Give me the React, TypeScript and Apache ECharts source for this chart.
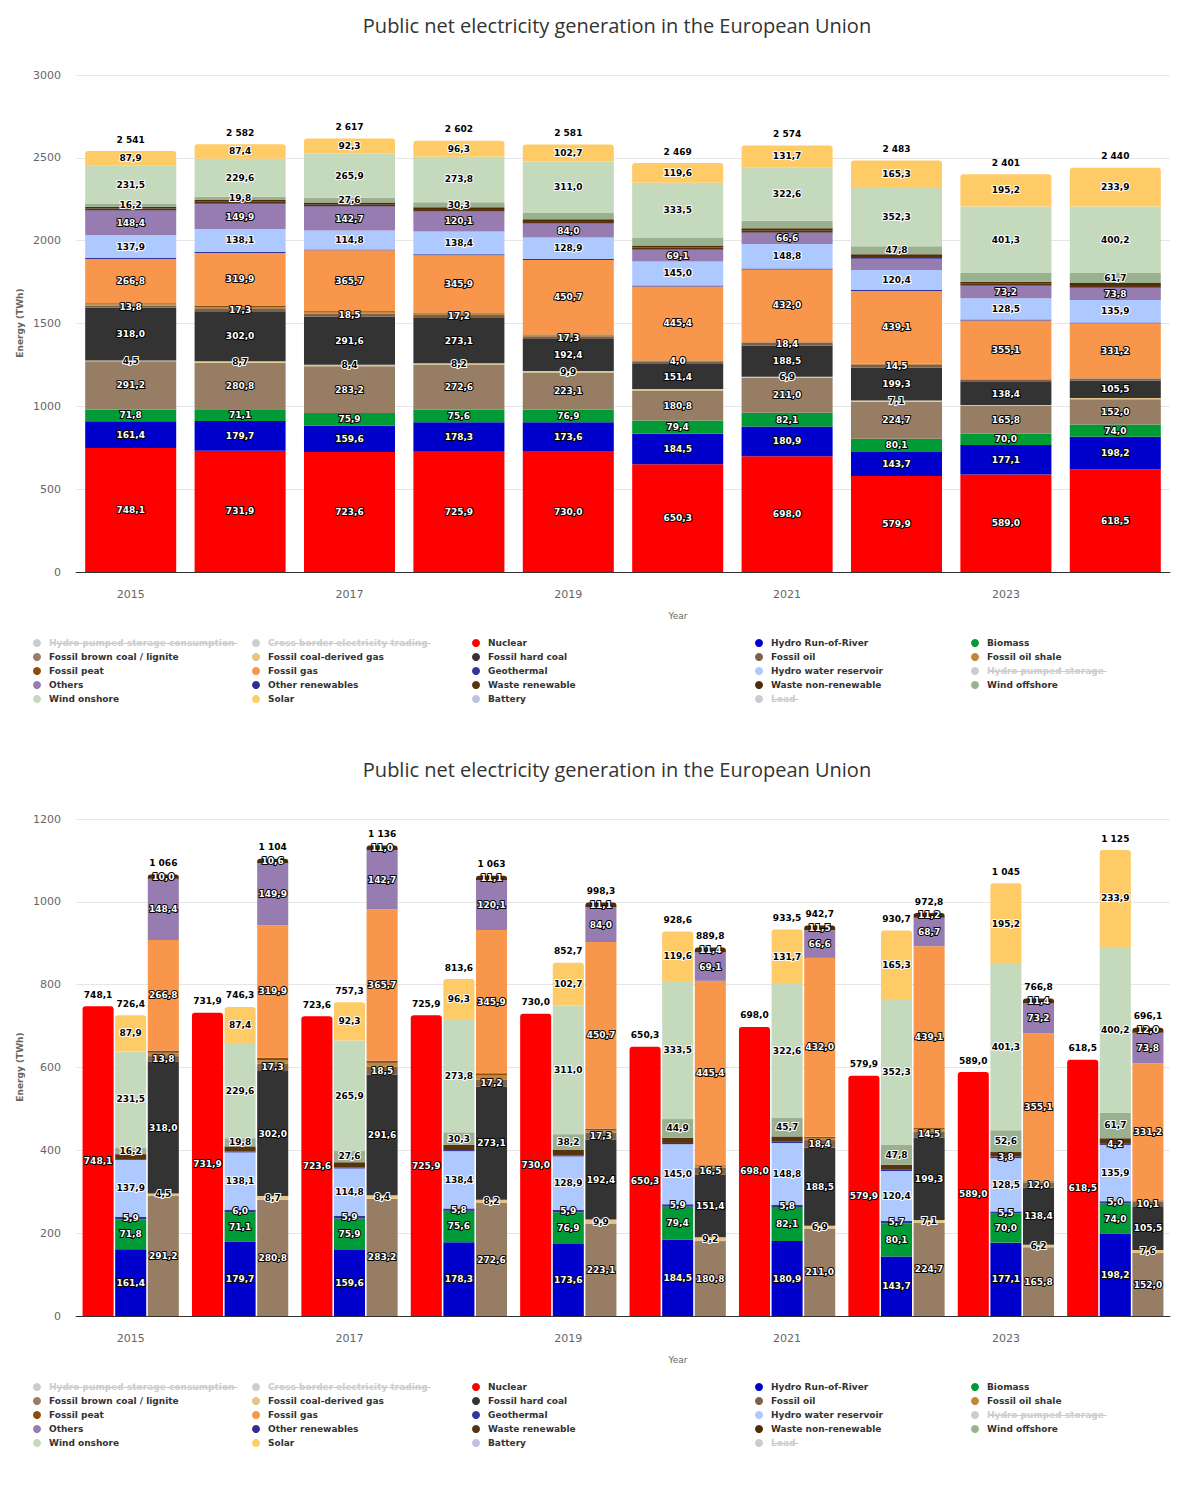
import React, { useEffect, useRef } from 'react';
import * as echarts from 'echarts';

const years = ['2015', '2016', '2017', '2018', '2019', '2020', '2021', '2022', '2023', '2024'];

const nuclear = [748.1, 731.9, 723.6, 725.9, 730.0, 650.3, 698.0, 579.9, 589.0, 618.5];
const hydroRunOfRiver = [161.4, 179.7, 159.6, 178.3, 173.6, 184.5, 180.9, 143.7, 177.1, 198.2];
const biomass = [71.8, 71.1, 75.9, 75.6, 76.9, 79.4, 82.1, 80.1, 70.0, 74.0];
const brownCoal = [291.2, 280.8, 283.2, 272.6, 223.1, 180.8, 211.0, 224.7, 165.8, 152.0];
const coalDerivedGas = [4.5, 8.7, 8.4, 8.2, 9.9, 9.2, 6.9, 7.1, 6.2, 7.6];
const hardCoal = [318.0, 302.0, 291.6, 273.1, 192.4, 151.4, 188.5, 199.3, 138.4, 105.5];
const fossilOil = [13.8, 17.3, 18.5, 17.2, 17.3, 16.5, 18.4, 14.5, 12.0, 10.1];
const oilShale = [8.0, 8.5, 9.5, 9.3, 5.6, 4.0, 5.0, 5.4, 2.6, 2.3];
const peat = [5.3, 6.3, 5.4, 5.5, 4.2, 2.0, 2.8, 2.8, 2.1, 1.6];
const fossilGas = [266.8, 319.9, 365.7, 345.9, 450.7, 445.4, 432.0, 439.1, 355.1, 331.2];
const geothermal = [5.9, 6.0, 5.9, 5.8, 5.9, 5.9, 5.8, 5.7, 5.5, 5.0];
const hydroReservoir = [137.9, 138.1, 114.8, 138.4, 128.9, 145.0, 148.8, 120.4, 128.5, 135.9];
const others = [148.4, 149.9, 142.7, 120.1, 84.0, 69.1, 66.6, 68.7, 73.2, 73.8];
const otherRenewables = [2.0, 2.2, 2.4, 2.5, 2.7, 3.0, 3.2, 3.4, 3.8, 4.2];
const wasteRenewable = [11.8, 12.4, 12.9, 12.6, 12.8, 12.8, 12.7, 12.0, 11.0, 11.9];
const wasteNonRenewable = [10.0, 10.6, 11.0, 11.1, 11.1, 11.4, 11.5, 11.2, 11.4, 12.0];
const windOffshore = [16.2, 19.8, 27.6, 30.3, 38.2, 44.9, 45.7, 47.8, 52.6, 61.7];
const windOnshore = [231.5, 229.6, 265.9, 273.8, 311.0, 333.5, 322.6, 352.3, 401.3, 400.2];
const solar = [87.9, 87.4, 92.3, 96.3, 102.7, 119.6, 131.7, 165.3, 195.2, 233.9];
const battery: (number | null)[] = [null, null, null, null, null, null, null, null, null, null];

const totalAll = [2541, 2582, 2617, 2602, 2581, 2469, 2574, 2483, 2401, 2440];
const totalRenewable = [726.4, 746.3, 757.3, 813.6, 852.7, 928.6, 933.5, 930.7, 1045, 1125];
const totalFossil = [1066, 1104, 1136, 1063, 998.3, 889.8, 942.7, 972.8, 766.8, 696.1];

const TITLE = 'Public net electricity generation in the European Union';

type Shown = 'all' | 'none' | number[];
type Def = {
  name: string;
  data: (number | null)[];
  color: string;
  group: 'nuc' | 'ren' | 'fos';
  dark?: boolean;
  off?: boolean;
  top?: Shown;
  split?: Shown;
  capTop?: boolean;
  capSplit?: boolean;
};

const empty: (number | null)[] = [];

const defs: Def[] = [
  { name: 'Hydro pumped storage consumption', data: empty, color: '#0b4fa8', group: 'nuc', off: true },
  { name: 'Cross border electricity trading', data: empty, color: '#999999', group: 'nuc', off: true },
  { name: 'Nuclear', data: nuclear, color: '#ff0000', group: 'nuc', top: 'all', split: 'all', capSplit: true },
  { name: 'Hydro Run-of-River', data: hydroRunOfRiver, color: '#0000cc', group: 'ren', top: 'all', split: 'all' },
  { name: 'Biomass', data: biomass, color: '#009a36', group: 'ren', top: 'all', split: 'all' },
  { name: 'Fossil brown coal / lignite', data: brownCoal, color: '#977d63', group: 'fos', top: 'all', split: 'all' },
  { name: 'Fossil coal-derived gas', data: coalDerivedGas, color: '#e2c484', group: 'fos', dark: true, top: [0, 1, 2, 3, 4, 6, 7], split: 'all' },
  { name: 'Fossil hard coal', data: hardCoal, color: '#333333', group: 'fos', top: 'all', split: 'all' },
  { name: 'Fossil oil', data: fossilOil, color: '#7d6049', group: 'fos', top: [0, 1, 2, 3, 4, 6, 7], split: 'all' },
  { name: 'Fossil oil shale', data: oilShale, color: '#c28637', group: 'fos', top: [5], split: 'none' },
  { name: 'Fossil peat', data: peat, color: '#8c4d0c', group: 'fos', top: 'none', split: 'none' },
  { name: 'Fossil gas', data: fossilGas, color: '#f8964b', group: 'fos', top: 'all', split: 'all' },
  { name: 'Geothermal', data: geothermal, color: '#333399', group: 'ren', top: 'none', split: 'all' },
  { name: 'Hydro water reservoir', data: hydroReservoir, color: '#aec9ff', group: 'ren', dark: true, top: 'all', split: 'all' },
  { name: 'Hydro pumped storage', data: empty, color: '#6f8fd0', group: 'ren', off: true },
  { name: 'Others', data: others, color: '#967cb0', group: 'fos', top: [0, 1, 2, 3, 4, 5, 6, 8, 9], split: 'all' },
  { name: 'Other renewables', data: otherRenewables, color: '#303094', group: 'ren', top: 'none', split: [8, 9] },
  { name: 'Waste renewable', data: wasteRenewable, color: '#573310', group: 'ren', top: 'none', split: 'none' },
  { name: 'Waste non-renewable', data: wasteNonRenewable, color: '#4e2c08', group: 'fos', top: 'none', split: 'all', capSplit: true },
  { name: 'Wind offshore', data: windOffshore, color: '#9bb08f', group: 'ren', dark: true, top: [0, 1, 2, 3, 7, 9], split: 'all' },
  { name: 'Wind onshore', data: windOnshore, color: '#c5d9bc', group: 'ren', dark: true, top: 'all', split: 'all' },
  { name: 'Solar', data: solar, color: '#ffcb66', group: 'ren', dark: true, top: 'all', split: 'all', capTop: true, capSplit: true },
  { name: 'Battery', data: battery, color: '#c0c0e0', group: 'ren', dark: true, top: 'none', split: 'none' },
  { name: 'Load', data: empty, color: '#888888', group: 'nuc', off: true },
];

const FONT = 'DejaVu Sans';
const fmt1 = (v: number) => v.toFixed(1).replace('.', ',');
const fmtTotal = (v: number) => {
  if (v >= 1000) {
    const s = String(Math.round(v));
    return s.replace(/\B(?=(\d{3})+(?!\d))/g, ' ');
  }
  return fmt1(v);
};

const isShown = (s: Shown | undefined, i: number) => {
  if (!s || s === 'none') return false;
  if (s === 'all') return true;
  return s.indexOf(i) >= 0;
};

const LEG_COLS = [33, 252, 472, 755, 971];
const LEG_ROW0 = 643;
const LEG_ROW_STEP = 14;

function measure(text: string) {
  const c = document.createElement('canvas');
  const ctx = c.getContext('2d');
  if (!ctx) return text.length * 6;
  ctx.font = `bold 9px "${FONT}"`;
  return ctx.measureText(text).width;
}

function buildOption(split: boolean) {
  const ymax = split ? 1200 : 3000;
  const yint = split ? 200 : 500;
  const series: any[] = [];
  defs.forEach((d) => {
    const stack = split ? d.group : 'all';
    const cap = split ? d.capSplit : d.capTop;
    const shown = split ? d.split : d.top;
    series.push({
      type: 'bar',
      name: d.name,
      stack,
      barCategoryGap: split ? '12%' : '16.8%',
      barGap: '5%',
      itemStyle: { color: d.color, borderRadius: cap ? [3, 3, 0, 0] : 0 },
      label: {
        show: true,
        position: 'inside',
        fontFamily: FONT,
        fontSize: 9,
        fontWeight: 'bold',
        color: d.dark ? '#000000' : '#ffffff',
        textBorderColor: d.dark ? '#ffffff' : '#000000',
        textBorderWidth: 2,
        formatter: (p: any) => fmt1(p.value),
      },
      emphasis: { disabled: true },
      data: d.data.map((v, i) => ({ value: v, label: { show: isShown(shown, i) } })),
    });
  });

  const totals: { stack: string; values: number[] }[] = split
    ? [
        { stack: 'nuc', values: nuclear },
        { stack: 'ren', values: totalRenewable },
        { stack: 'fos', values: totalFossil },
      ]
    : [{ stack: 'all', values: totalAll }];
  totals.forEach((t, k) => {
    series.push({
      type: 'bar',
      name: 'total-' + k,
      stack: t.stack,
      barCategoryGap: split ? '12%' : '16.8%',
      barGap: '5%',
      silent: true,
      itemStyle: { color: 'rgba(0,0,0,0)' },
      label: {
        show: true,
        position: 'top',
        distance: 7,
        fontFamily: FONT,
        fontSize: 9,
        fontWeight: 'bold',
        color: '#000000',
        formatter: (p: any) => fmtTotal(t.values[p.dataIndex]),
      },
      data: t.values.map(() => 0),
    });
  });

  const legends: any[] = [];
  const graphics: any[] = [];
  for (let c = 0; c < 5; c++) {
    const names: string[] = [];
    const selected: Record<string, boolean> = {};
    for (let r = 0; r < 5; r++) {
      const idx = c + r * 5;
      if (idx < defs.length) {
        const d = defs[idx];
        names.push(d.name);
        if (d.off) {
          selected[d.name] = false;
          const tx = LEG_COLS[c] + 19;
          const ty = LEG_ROW0 + r * LEG_ROW_STEP + 0.5;
          graphics.push({
            type: 'line',
            silent: true,
            z: 100,
            shape: { x1: tx, y1: ty, x2: tx + measure(d.name), y2: ty },
            style: { stroke: '#cccccc', lineWidth: 1 },
          });
        }
      }
    }
    legends.push({
      orient: 'vertical',
      left: LEG_COLS[c],
      top: LEG_ROW0 - 5.5,
      padding: 0,
      itemGap: 3,
      itemWidth: 14,
      itemHeight: 8,
      icon: 'circle',
      inactiveColor: '#cccccc',
      textStyle: { fontFamily: FONT, fontSize: 9, fontWeight: 'bold', color: '#333333', lineHeight: 11 },
      data: names,
      selected,
    });
  }

  graphics.push({
    type: 'text',
    x: 617,
    y: 25,
    style: { text: TITLE, fontFamily: 'Open Sans', fontSize: 20, fill: '#333333', align: 'center', verticalAlign: 'middle' },
  });
  graphics.push({
    type: 'text',
    x: 678,
    y: 616,
    style: { text: 'Year', fontFamily: FONT, fontSize: 9, fill: '#666666', align: 'center', verticalAlign: 'middle' },
  });
  graphics.push({
    type: 'text',
    x: 20,
    y: 323,
    rotation: Math.PI / 2,
    style: { text: 'Energy (TWh)', fontFamily: FONT, fontSize: 9, fontWeight: 'bold', fill: '#666666', align: 'center', verticalAlign: 'middle' },
  });

  return {
    animation: false,
    grid: { left: 76, right: 28, top: 75, height: 497, containLabel: false },
    xAxis: {
      type: 'category',
      data: years,
      axisLine: { lineStyle: { color: '#333333', width: 1 } },
      axisTick: { show: false },
      axisLabel: { interval: 1, margin: 17, fontFamily: FONT, fontSize: 11, color: '#666666' },
    },
    yAxis: {
      type: 'value',
      min: 0,
      max: ymax,
      interval: yint,
      axisLine: { show: false },
      axisTick: { show: false },
      splitLine: { lineStyle: { color: '#e6e6e6', width: 1 } },
      axisLabel: {
        margin: 15,
        fontFamily: FONT,
        fontSize: 11,
        color: '#666666',
        formatter: (v: number) => String(v),
      },
    },
    legend: legends,
    graphic: graphics,
    series,
  };
}

function Chart({ split, top, height }: { split: boolean; top: number; height: number }) {
  const ref = useRef<HTMLDivElement>(null);
  useEffect(() => {
    if (!ref.current) return;
    const chart = echarts.init(ref.current, undefined, { renderer: 'svg' });
    chart.setOption(buildOption(split));
    return () => chart.dispose();
  }, [split]);
  return (
    <div
      ref={ref}
      style={{ position: 'absolute', left: 0, top, width: 1198, height, background: '#ffffff' }}
    />
  );
}

export default function App() {
  return (
    <div style={{ position: 'absolute', left: 0, top: 0, width: 1198, height: 1502, background: '#ffffff' }}>
      <Chart split={false} top={0} height={744} />
      <Chart split={true} top={744} height={758} />
    </div>
  );
}
